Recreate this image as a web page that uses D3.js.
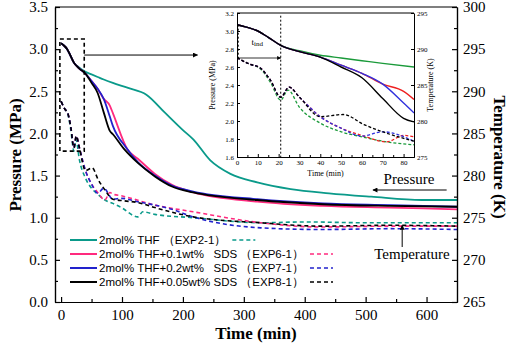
<!DOCTYPE html>
<html>
<head>
<meta charset="utf-8">
<script src="https://cdn.jsdelivr.net/npm/d3@7"></script>
<style>
  body { margin: 0; background: #fff; }
  svg { display: block; }
</style>
</head>
<body>
<div id="chart"></div>
<script>
// ---- data ----
const seriesNames = ["EXP2-1", "EXP6-1", "EXP7-1", "EXP8-1"];
const legendLabels = ["2mol% THF （EXP2-1）", "2mol% THF+0.1wt%   SDS （EXP6-1）",
                      "2mol% THF+0.2wt%   SDS （EXP7-1）", "2mol% THF+0.05wt% SDS （EXP8-1）"];

// pressure (MPa)
const tPGreen = [0, 5, 10, 15, 21, 30, 40, 50, 60, 70, 85, 110, 140, 170, 200, 217, 245, 278, 322, 377, 440, 509, 592, 650];
const pGreen  = [3.07, 3.04, 3.00, 2.93, 2.84, 2.78, 2.73, 2.70, 2.67, 2.64, 2.60, 2.54, 2.46, 2.25, 2.04, 1.93, 1.68, 1.52, 1.42, 1.34, 1.29, 1.25, 1.21, 1.21];
const tPRed   = [0, 5, 10, 15, 21, 30, 40, 50, 60, 70, 80, 85, 109, 126, 154, 182, 217, 322, 430, 540, 650];
const pRed    = [3.07, 3.04, 3.00, 2.93, 2.84, 2.77, 2.71, 2.62, 2.53, 2.41, 2.33, 2.24, 1.81, 1.70, 1.52, 1.39, 1.30, 1.19, 1.14, 1.12, 1.10];
const tPBlue  = [0, 5, 10, 15, 21, 30, 40, 50, 60, 70, 80, 85, 107, 126, 154, 182, 217, 322, 430, 540, 650];
const pBlue   = [3.07, 3.04, 3.00, 2.93, 2.84, 2.77, 2.71, 2.62, 2.53, 2.41, 2.20, 2.09, 1.83, 1.66, 1.50, 1.38, 1.31, 1.22, 1.17, 1.15, 1.13];
const tPBlack = [0, 5, 10, 15, 21, 30, 40, 50, 60, 70, 80, 85, 104, 126, 154, 182, 217, 322, 430, 540, 650];
const pBlack  = [3.07, 3.04, 3.00, 2.93, 2.84, 2.77, 2.71, 2.60, 2.48, 2.25, 2.03, 1.99, 1.81, 1.65, 1.49, 1.37, 1.30, 1.21, 1.16, 1.14, 1.13];

// temperature (K)
const tTGreen = [0, 6, 11, 16, 21, 24.5, 30, 40, 50, 60, 72, 85, 99, 126, 134, 154, 217, 328, 400, 500, 650];
const kGreen  = [288.8, 287.9, 287.3, 285.4, 282.9, 284.3, 281.9, 279.7, 278.5, 277.8, 277.1, 276.7, 276.2, 275.1, 275.7, 275.4, 275.0, 274.4, 274.5, 274.4, 274.4];
const tTRed   = [0, 6, 11, 16, 21, 25, 30, 40, 50, 60, 72, 80, 85, 99, 154, 217, 328, 426, 540, 650];
const kRed    = [288.8, 287.9, 287.4, 285.7, 283.3, 284.7, 283.3, 280.6, 279.0, 278.0, 277.1, 278.0, 277.8, 277.6, 276.5, 275.7, 274.4, 273.9, 274.0, 274.0];
const tTBlue  = [0, 6, 11, 16, 21, 25, 30, 40, 50, 60, 70, 85, 99, 126, 182, 217, 328, 426, 540, 650];
const kBlue   = [288.8, 287.9, 287.4, 285.7, 283.3, 284.7, 283.3, 280.6, 279.0, 277.9, 278.5, 277.2, 277.3, 276.9, 276.0, 275.1, 273.8, 273.6, 273.7, 273.6];
const tTBlack = [0, 6, 11, 16, 21, 25, 30, 40, 51, 61, 72, 85, 104, 126, 154, 217, 328, 426, 540, 650];
const kBlack  = [288.8, 287.9, 287.4, 285.7, 283.3, 284.7, 283.3, 280.6, 280.9, 279.5, 278.3, 277.2, 277.0, 276.8, 276.2, 275.1, 274.4, 274.0, 274.1, 274.0];

const mainColors  = ["#0a9a8a", "#ff2a7e", "#2222cc", "#000000"];
const insetColors = ["#1a9a3a", "#ee2020", "#3030dd", "#000000"];

const xTicks = [0, 100, 200, 300, 400, 500, 600];
const pTicks = [0, 0.5, 1.0, 1.5, 2.0, 2.5, 3.0, 3.5];
const kTicks = [265, 270, 275, 280, 285, 290, 295, 300];
const insetXTicks = [0, 10, 20, 30, 40, 50, 60, 70, 80];
const insetPTicks = [1.6, 1.8, 2.0, 2.2, 2.4, 2.6, 2.8, 3.0, 3.2];
const insetKTicks = [275, 280, 285, 290, 295];

const zip = (ts, vs) => ts.map((t, i) => ({ t: t, v: vs[i] }));
const pressure = [zip(tPGreen, pGreen), zip(tPRed, pRed), zip(tPBlue, pBlue), zip(tPBlack, pBlack)];
const temperature = [zip(tTGreen, kGreen), zip(tTRed, kRed), zip(tTBlue, kBlue), zip(tTBlack, kBlack)];

const SERIF = "'Liberation Serif', 'Times New Roman', serif";
const SANS = "'Liberation Sans', Arial, sans-serif";

// ---- canvas ----
const width = 512, height = 345;
const svg = d3.select("#chart").append("svg")
    .attr("width", width).attr("height", height);

const x = d3.scaleLinear().domain([-10, 650]).range([55, 457]);
const yP = d3.scaleLinear().domain([0, 3.5]).range([302, 7]);
const yT = d3.scaleLinear().domain([265, 300]).range([302, 7]);

const lineP = d3.line().x(d => x(d.t)).y(d => yP(d.v)).curve(d3.curveMonotoneX);
const lineT = d3.line().x(d => x(d.t)).y(d => yT(d.v)).curve(d3.curveMonotoneX);

// arrow markers
const defs = svg.append("defs");
defs.append("marker").attr("id", "arr")
    .attr("viewBox", "0 0 10 10").attr("refX", 9).attr("refY", 5)
    .attr("markerWidth", 7).attr("markerHeight", 5).attr("orient", "auto")
    .attr("markerUnits", "userSpaceOnUse")
    .append("path").attr("d", "M0,0L10,5L0,10z").attr("fill", "#000");
defs.append("marker").attr("id", "arrS")
    .attr("viewBox", "0 0 10 10").attr("refX", 9).attr("refY", 5)
    .attr("markerWidth", 5).attr("markerHeight", 4).attr("orient", "auto")
    .attr("markerUnits", "userSpaceOnUse")
    .append("path").attr("d", "M0,0L10,5L0,10z").attr("fill", "#000");

// ---- main lines ----
const main = svg.append("g");
temperature.forEach((s, i) => {
    main.append("path").datum(s)
        .attr("d", lineT).attr("fill", "none")
        .attr("stroke", mainColors[i]).attr("stroke-width", 1.6)
        .attr("stroke-dasharray", "4,3");
});
pressure.forEach((s, i) => {
    main.append("path").datum(s)
        .attr("d", lineP).attr("fill", "none")
        .attr("stroke", mainColors[i]).attr("stroke-width", 1.8);
});

// ---- main axes ----
function styleAxis(g, size) {
    g.attr("font-family", null);
    g.selectAll("text").style("font-family", SERIF).style("font-size", size + "px").attr("fill", "#000");
    g.selectAll("line, path").attr("stroke", "#000").attr("stroke-width", 1.2);
}
svg.append("g").attr("transform", "translate(0,302)")
    .call(d3.axisBottom(x).tickValues(xTicks).tickSize(-5).tickPadding(7).tickSizeOuter(0))
    .call(g => styleAxis(g, 15));
svg.append("g").attr("transform", "translate(0,302)")
    .call(d3.axisBottom(x).tickValues(d3.range(50, 650, 100)).tickSize(-3).tickFormat("").tickSizeOuter(0))
    .call(g => styleAxis(g, 15));
svg.append("g").attr("transform", "translate(55,0)")
    .call(d3.axisLeft(yP).tickValues(pTicks).tickFormat(d3.format(".1f")).tickSize(-5).tickPadding(7).tickSizeOuter(0))
    .call(g => styleAxis(g, 15));
svg.append("g").attr("transform", "translate(55,0)")
    .call(d3.axisLeft(yP).tickValues(d3.range(0.25, 3.5, 0.5)).tickSize(-3).tickFormat("").tickSizeOuter(0))
    .call(g => styleAxis(g, 15));
svg.append("g").attr("transform", "translate(457,0)")
    .call(d3.axisRight(yT).tickValues(kTicks).tickSize(-5).tickPadding(6).tickSizeOuter(0))
    .call(g => styleAxis(g, 15));
svg.append("g").attr("transform", "translate(457,0)")
    .call(d3.axisRight(yT).tickValues(d3.range(267.5, 300, 5)).tickSize(-3).tickFormat("").tickSizeOuter(0))
    .call(g => styleAxis(g, 15));
svg.append("line").attr("x1", 55).attr("x2", 457).attr("y1", 7).attr("y2", 7)
    .attr("stroke", "#000").attr("stroke-width", 1.2);

svg.append("text").style("font-family", SERIF)
    .attr("x", width / 2).attr("y", 339).attr("text-anchor", "middle")
    .style("font-size", "17px").style("font-weight", "bold").text("Time (min)");
svg.append("text").style("font-family", SERIF)
    .attr("transform", "translate(21,155) rotate(-90)").attr("text-anchor", "middle")
    .style("font-size", "17px").style("font-weight", "bold").text("Pressure (MPa)");
svg.append("text").style("font-family", SERIF)
    .attr("transform", "translate(494,157) rotate(90)").attr("text-anchor", "middle")
    .style("font-size", "17px").style("font-weight", "bold").text("Temperature (K)");

// zoom box + arrow
svg.append("rect")
    .attr("x", x(-2)).attr("y", yP(3.12))
    .attr("width", x(38) - x(-2)).attr("height", yP(1.79) - yP(3.12))
    .attr("fill", "none").attr("stroke", "#000").attr("stroke-width", 1.6)
    .attr("stroke-dasharray", "4,3");
svg.append("line")
    .attr("x1", x(38)).attr("x2", x(224)).attr("y1", yP(2.93)).attr("y2", yP(2.93))
    .attr("stroke", "#000").attr("stroke-width", 1).attr("marker-end", "url(#arr)");

// Pressure / Temperature labels
svg.append("text").style("font-family", SERIF).attr("x", 409).attr("y", 184)
    .attr("text-anchor", "middle").style("font-size", "15px").text("Pressure");
svg.append("line").attr("x1", x(633)).attr("x2", x(512)).attr("y1", 190).attr("y2", 190)
    .attr("stroke", "#000").attr("stroke-width", 1).attr("marker-end", "url(#arr)");
svg.append("text").style("font-family", SERIF).attr("x", 412).attr("y", 259)
    .attr("text-anchor", "middle").style("font-size", "15px").text("Temperature");
svg.append("line").attr("x1", x(560)).attr("x2", x(560)).attr("y1", 247).attr("y2", yT(274.1))
    .attr("stroke", "#000").attr("stroke-width", 1).attr("marker-end", "url(#arr)");

// ---- legend ----
const legend = svg.append("g");
legendLabels.forEach((lab, i) => {
    const yy = 240 + i * 14;
    legend.append("line").attr("x1", 70).attr("x2", 97).attr("y1", yy).attr("y2", yy)
        .attr("stroke", mainColors[i]).attr("stroke-width", 2);
    const tx = legend.append("text").attr("x", 99).attr("y", yy + 4.3)
        .attr("xml:space", "preserve")
        .style("font-family", SANS)
        .style("font-size", "11.5px").style("white-space", "pre").text(lab);
    const end = 99 + tx.node().getComputedTextLength();
    legend.append("line").attr("x1", end + 6).attr("x2", end + 29).attr("y1", yy).attr("y2", yy)
        .attr("stroke", mainColors[i]).attr("stroke-width", 1.6).attr("stroke-dasharray", "4,3");
});

// ---- inset ----
const xi = d3.scaleLinear().domain([0, 85]).range([237, 414]);
const yiP = d3.scaleLinear().domain([1.6, 3.2]).range([157, 13]);
const yiT = d3.scaleLinear().domain([275, 295]).range([157, 13]);
const ilineP = d3.line().x(d => xi(d.t)).y(d => yiP(d.v)).curve(d3.curveMonotoneX);
const ilineT = d3.line().x(d => xi(d.t)).y(d => yiT(d.v)).curve(d3.curveMonotoneX);

const inset = svg.append("g");
inset.append("rect").attr("x", 237).attr("y", 13).attr("width", 177).attr("height", 144)
    .attr("fill", "#fff");
defs.append("clipPath").attr("id", "iclip")
    .append("rect").attr("x", 237).attr("y", 13).attr("width", 177).attr("height", 144);
const icontent = inset.append("g").attr("clip-path", "url(#iclip)");
const cut = s => s.filter((d, j) => j === 0 || s[j - 1].t < 85);
temperature.forEach((s, i) => {
    icontent.append("path").datum(cut(s))
        .attr("d", ilineT).attr("fill", "none")
        .attr("stroke", insetColors[i]).attr("stroke-width", 1.3)
        .attr("stroke-dasharray", "3,2");
});
pressure.forEach((s, i) => {
    icontent.append("path").datum(cut(s))
        .attr("d", ilineP).attr("fill", "none")
        .attr("stroke", insetColors[i]).attr("stroke-width", 1.4);
});

function styleInset(g) {
    g.attr("font-family", null);
    g.selectAll("text").style("font-family", SERIF).style("font-size", "7px").attr("fill", "#000");
    g.selectAll("line, path").attr("stroke", "#000").attr("stroke-width", 1);
}
inset.append("g").attr("transform", "translate(0,157)")
    .call(d3.axisBottom(xi).tickValues(insetXTicks).tickSize(-3).tickPadding(3).tickSizeOuter(0))
    .call(styleInset);
inset.append("g").attr("transform", "translate(0,157)")
    .call(d3.axisBottom(xi).tickValues(d3.range(5, 85, 10)).tickSize(-2).tickFormat("").tickSizeOuter(0))
    .call(styleInset);
inset.append("g").attr("transform", "translate(237,0)")
    .call(d3.axisLeft(yiP).tickValues(insetPTicks).tickFormat(d3.format(".1f")).tickSize(-3).tickPadding(3).tickSizeOuter(0))
    .call(styleInset);
inset.append("g").attr("transform", "translate(414,0)")
    .call(d3.axisRight(yiT).tickValues(insetKTicks).tickSize(-3).tickPadding(3).tickSizeOuter(0))
    .call(styleInset);
inset.append("line").attr("x1", 237).attr("x2", 414).attr("y1", 13).attr("y2", 13)
    .attr("stroke", "#000").attr("stroke-width", 1);

inset.append("text").style("font-family", SERIF).attr("x", xi(42.5)).attr("y", 176)
    .attr("text-anchor", "middle").style("font-size", "8px").text("Time (min)");
inset.append("text").style("font-family", SERIF)
    .attr("transform", "translate(215,85) rotate(-90)").attr("text-anchor", "middle")
    .style("font-size", "8px").text("Pressure (MPa)");
inset.append("text").style("font-family", SERIF)
    .attr("transform", "translate(433,85) rotate(-90)").attr("text-anchor", "middle")
    .style("font-size", "8px").text("Temperature (K)");

// induction time marks
inset.append("line").attr("x1", xi(21)).attr("x2", xi(21)).attr("y1", yiP(3.17)).attr("y2", 157)
    .attr("stroke", "#000").attr("stroke-width", 1).attr("stroke-dasharray", "2,2");
inset.append("line").attr("x1", xi(0.6)).attr("x2", xi(0.6)).attr("y1", yiP(3.07)).attr("y2", yiP(2.7))
    .attr("stroke", "#000").attr("stroke-width", 1).attr("stroke-dasharray", "2,2");
inset.append("line").attr("x1", xi(0.6)).attr("x2", xi(21)).attr("y1", yiP(2.7)).attr("y2", yiP(2.7))
    .attr("stroke", "#000").attr("stroke-width", 0.8).attr("marker-end", "url(#arrS)");
const tind = inset.append("text").style("font-family", SERIF).attr("x", xi(7)).attr("y", yiP(2.84))
    .style("font-size", "9px");
tind.append("tspan").text("t");
tind.append("tspan").attr("dy", 1).style("font-size", "7px").text("ind");
</script>
</body>
</html>
